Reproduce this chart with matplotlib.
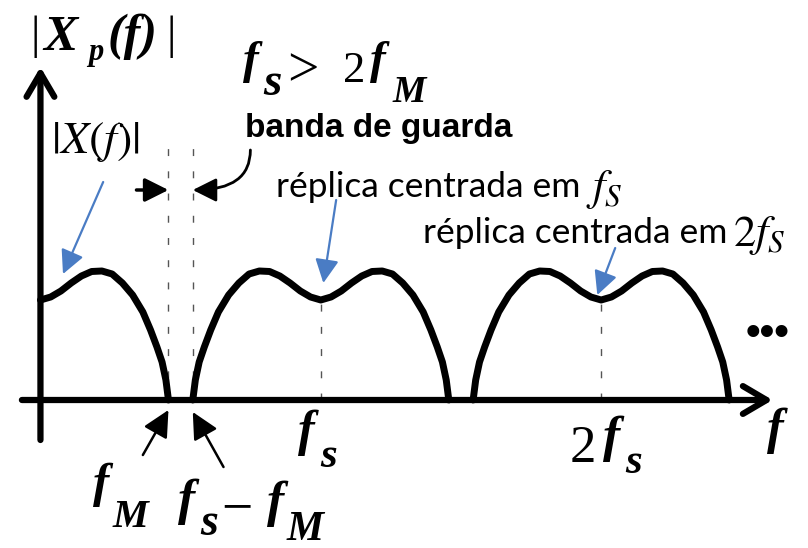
import numpy as np
import matplotlib
matplotlib.use("Agg")
import matplotlib.pyplot as plt
from matplotlib.patches import FancyArrowPatch
from matplotlib.transforms import Affine2D

# baseband spectrum |X(f)|, one side, f in units of fM
f_norm = [0.0, 0.08, 0.16, 0.24, 0.32, 0.40, 0.48, 0.56, 0.64, 0.72,
          0.80, 0.86, 0.91, 0.95, 0.98, 1.0]
mag = [1.00, 1.03, 1.09, 1.17, 1.24, 1.285, 1.29, 1.26, 1.17, 1.05,
       0.88, 0.70, 0.53, 0.38, 0.20, 0.0]

FM = 1.0     # highest frequency of the signal
FS = 2.19    # sampling frequency (fs > 2 fM)
replicas = [1, 2]

BLUE = '#4a7cc4'
W, H = 808, 548

fig = plt.figure(figsize=(W / 100, H / 100), dpi=100)
ax = fig.add_axes([0, 0, 1, 1])
ax.set_xlim(-0.316, 5.996)
ax.set_ylim(-1.48, 4.0)
ax.axis('off')

# pixel coordinates, origin top-left, for placing the text pieces
PX = Affine2D().scale(1, -1).translate(0, H)


def bi(x, y, s, size):
    ax.text(x, y, s, transform=PX, fontsize=size, family='Liberation Serif',
            style='italic', weight='bold', ha='left', va='baseline')


def rm(x, y, s, size):
    ax.text(x, y, s, transform=PX, fontsize=size, family='Liberation Serif',
            ha='left', va='baseline')


fn = np.array(f_norm) * FM
mg = np.array(mag)

# axes with open arrow heads
for a, b in [((-0.145, 0), (5.72, 0)), ((0, -0.40), (0, 3.33))]:
    ax.add_patch(FancyArrowPatch(a, b, arrowstyle='->,head_length=0.85,head_width=0.5',
                                 mutation_scale=20, lw=4.5, color='black',
                                 shrinkA=0, shrinkB=0, zorder=3))

# baseband (f >= 0 only) and the replicas around k*fs
ax.plot(fn, mg, color='black', lw=5, solid_capstyle='round', solid_joinstyle='round', zorder=4)
for k in replicas:
    x = k * FS + np.concatenate([-fn[::-1], fn[1:]])
    y = np.concatenate([mg[::-1], mg[1:]])
    ax.plot(x, y, color='black', lw=5, solid_capstyle='round', solid_joinstyle='round', zorder=4)

# dashed guides
dash = dict(color='#555555', lw=1.0, ls=(0, (5, 11)), zorder=2)
ax.plot([FM, FM], [0, 2.58], **dash)
ax.plot([FS - FM, FS - FM], [0, 2.58], **dash)
for k in replicas:
    ax.plot([k * FS, k * FS], [0, mg[0]], **dash)

# guard band arrows
ax.annotate('', xy=(FM, 2.10), xytext=(0.75, 2.10),
            arrowprops=dict(arrowstyle='-|>,head_length=0.8,head_width=0.4',
                            mutation_scale=18, lw=2.5, color='black',
                            shrinkA=0, shrinkB=0))
ax.annotate('', xy=(FS - FM, 2.10), xytext=(1.64, 2.50),
            arrowprops=dict(arrowstyle='-|>,head_length=0.8,head_width=0.4',
                            mutation_scale=18, lw=2.0, color='black',
                            shrinkA=0, shrinkB=0,
                            connectionstyle='angle3,angleA=90,angleB=0'))

# pointers to fM and fs - fM
for tail, tip in [((0.80, -0.55), (FM, -0.10)), ((1.43, -0.67), (FS - FM, -0.12))]:
    ax.annotate('', xy=tip, xytext=tail,
                arrowprops=dict(arrowstyle='-|>,head_length=0.9,head_width=0.45',
                                mutation_scale=18, lw=1.8, color='black',
                                shrinkA=0, shrinkB=0))

# blue pointers to the spectra
for tail, tip in [((0.49, 2.18), (0.176, 1.26)),
                  ((2.31, 2.00), (FS + 0.02, 1.17)),
                  ((4.49, 1.52), (2 * FS - 0.03, 1.05))]:
    ax.annotate('', xy=tip, xytext=tail,
                arrowprops=dict(arrowstyle='-|>,head_length=0.8,head_width=0.4',
                                mutation_scale=18, lw=1.6, color=BLUE,
                                shrinkA=0, shrinkB=0))

# |Xp(f)|
rm(31, 48, '|', 34)
bi(43, 50, 'X', 37)
bi(88, 60, 'p', 22)
bi(108, 49, '(f)', 36)
rm(167, 48, '|', 34)

# fs > 2fM
bi(243, 73, 'f', 34)
bi(263, 95, 's', 34)
rm(287, 86, '>', 40)
rm(343, 82, '2', 32)
bi(370, 73, 'f', 34)
bi(393, 102, 'M', 27)

ax.text(245, 137, 'banda de guarda', transform=PX, fontsize=24, fontweight='bold',
        family='Liberation Sans', ha='left', va='baseline')
ax.text(51, 142, r'$|X(f)|$', transform=PX, fontsize=33, math_fontfamily='stix',
        ha='left', va='center')

ax.text(276, 197, 'réplica centrada em', transform=PX, fontsize=25.5, family='Lato',
        ha='left', va='baseline')
ax.text(586, 200, r'$f_S$', transform=PX, fontsize=32, math_fontfamily='stix',
        ha='left', va='baseline')
ax.text(423, 243, 'réplica centrada em', transform=PX, fontsize=25.5, family='Lato',
        ha='left', va='baseline')
ax.text(733, 246, r'$2f_S$', transform=PX, fontsize=32, math_fontfamily='stix',
        ha='left', va='baseline')

# frequency labels under the axis
bi(93, 497, 'f', 35)
bi(113, 527, 'M', 29)

bi(178, 514, 'f', 37)
bi(200, 535, 's', 33)
rm(221, 524, '\u2212', 40)
bi(267, 516, 'f', 37)
bi(287, 540, 'M', 30)

bi(298, 445, 'f', 36)
bi(320, 467, 's', 31)

rm(570, 462, '2', 38)
bi(603, 451, 'f', 37)
bi(625, 473, 's', 31)

bi(767, 443, 'f', 36)

ax.text(768, 334, '•••', transform=PX, fontsize=30, family='Liberation Sans',
        fontweight='bold', ha='center', va='center')

fig.savefig('out.png', dpi=100)
